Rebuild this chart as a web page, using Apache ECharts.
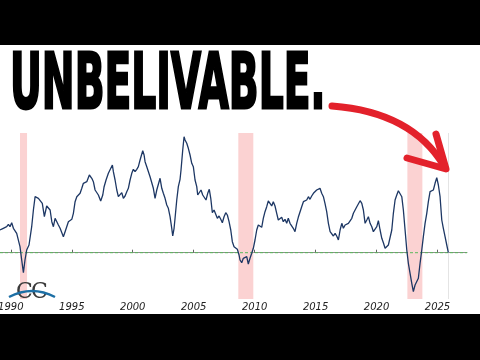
<!DOCTYPE html>
<html>
<head>
<meta charset="utf-8">
<script src="https://cdn.jsdelivr.net/npm/echarts@6/dist/echarts.min.js"></script>
<style>
html,body{margin:0;padding:0;background:#fff;}
#chart{width:480px;height:360px;}
</style>
</head>
<body>
<div id="chart"></div>
<script>
// ---- Data ----
const years = [1989.11,1989.38,1989.52,1989.66,1989.80,1989.93,1990.07,1990.21,1990.34,1990.48,1990.62,1990.75,1990.89,1991.03,1991.16,1991.30,1991.49,1991.71,1991.85,1991.99,1992.12,1992.26,1992.40,1992.58,1992.75,1992.94,1993.08,1993.22,1993.36,1993.49,1993.63,1993.77,1993.90,1994.04,1994.18,1994.31,1994.45,1994.59,1994.72,1994.86,1995.00,1995.13,1995.27,1995.41,1995.68,
1995.82,1995.95,1996.09,1996.23,1996.44,1996.64,1996.77,1996.91,1997.05,1997.18,1997.37,1997.54,1997.65,1997.81,1998.00,1998.14,1998.33,1998.41,1998.55,1998.69,1998.82,1998.96,1999.10,1999.23,1999.37,1999.51,1999.64,1999.78,1999.92,2000.05,2000.19,2000.33,2000.46,2000.60,2000.82,2000.93,2001.01,2001.15,2001.28,2001.42,2001.56,2001.69,2001.83,2001.97,2002.10,2002.24,
2002.38,2002.51,2002.65,2002.79,2002.92,2003.06,2003.20,2003.28,2003.39,2003.47,2003.61,2003.74,2003.88,2003.96,2004.10,2004.21,2004.29,2004.43,2004.56,2004.70,2004.84,2004.97,2005.11,2005.25,2005.33,2005.46,2005.60,2005.74,2005.87,2006.01,2006.15,2006.28,2006.40,2006.53,2006.67,2006.81,2006.94,2007.08,2007.22,2007.35,2007.49,2007.63,2007.76,2007.90,2008.04,2008.17,2008.31,2008.45,2008.58,2008.72,2008.80,
2008.94,2009.07,2009.21,2009.35,2009.48,2009.62,2009.76,2009.89,2010.03,2010.17,2010.30,2010.44,2010.58,2010.71,2010.85,2010.99,2011.12,2011.26,2011.40,2011.53,2011.67,2011.81,2011.94,2012.08,2012.22,2012.35,2012.49,2012.63,2012.76,2012.90,2013.04,2013.17,2013.31,2013.45,2013.58,2013.72,2013.86,2014.00,2014.13,2014.27,2014.41,2014.54,2014.68,2014.82,2014.95,2015.09,2015.36,
2015.50,2015.64,2015.77,2015.91,2016.05,2016.19,2016.32,2016.46,2016.60,2016.73,2016.87,2017.01,2017.15,2017.28,2017.42,2017.56,2017.69,2017.83,2017.97,2018.10,2018.24,2018.38,2018.51,2018.65,2018.79,2018.92,2019.06,2019.20,2019.33,2019.47,2019.61,2019.74,2019.88,2020.02,2020.15,2020.29,2020.43,2020.56,2020.70,2020.84,2020.97,2021.11,2021.25,2021.38,2021.52,2021.66,2021.79,2021.93,
2022.07,2022.20,2022.34,2022.48,2022.61,2022.75,2022.89,2023.02,2023.16,2023.30,2023.43,2023.57,2023.71,2023.84,2023.98,2024.12,2024.25,2024.39,2024.53,2024.66,2024.80,2024.94,2025.07,2025.21,2025.35,2025.48,2025.62,2025.76,2025.89];

const values = [2.27,2.44,2.27,2.60,2.84,2.60,3.00,2.44,2.60,1.94,1.94,0.60,-0.73,-2.00,-0.73,0.27,0.77,2.60,4.27,5.60,5.77,5.44,5.44,4.94,3.60,4.67,4.54,4.27,3.10,2.60,3.44,3.54,2.77,2.44,2.27,1.60,2.10,2.27,3.10,3.27,3.34,3.94,5.10,5.60,5.94,
6.44,6.94,7.10,7.10,7.77,7.44,7.10,6.27,6.10,5.77,5.17,5.77,6.60,7.27,7.94,7.77,8.77,8.10,7.27,6.27,5.60,5.77,6.00,5.44,5.67,6.10,6.44,7.27,7.94,8.34,8.10,8.34,8.60,9.27,10.20,9.77,9.10,8.60,8.44,7.60,7.44,6.44,5.44,6.27,6.44,7.44,
6.44,5.94,5.44,4.77,4.44,3.60,2.44,1.67,2.44,3.44,5.27,6.60,7.34,8.27,10.27,11.60,11.27,10.94,10.44,9.77,8.94,8.60,7.27,6.60,5.77,5.77,6.27,5.77,5.60,5.27,5.94,6.34,5.44,4.00,4.27,4.27,3.44,3.67,3.34,3.00,3.60,4.00,3.77,3.10,2.27,1.10,0.60,0.77,0.34,-0.23,-0.73,
-1.00,-0.56,-0.73,-0.40,-1.13,-0.56,-0.06,0.44,1.27,2.27,2.77,2.77,2.54,3.44,4.10,4.60,5.17,4.94,4.67,5.10,4.67,3.94,3.27,3.10,3.54,3.10,3.34,2.94,3.44,2.94,2.77,2.44,2.10,2.94,3.54,3.67,4.60,5.10,5.10,5.27,5.60,5.34,5.67,5.94,5.94,6.27,6.44,
5.94,5.60,4.94,4.10,2.94,2.10,1.94,1.67,1.94,1.67,1.27,2.27,2.94,2.44,2.77,2.60,2.94,3.10,3.44,3.94,4.27,4.60,4.77,5.20,4.94,4.27,2.94,3.27,3.60,2.94,2.60,2.10,1.94,2.60,3.20,2.27,1.44,1.00,0.44,0.44,0.77,0.77,2.27,3.94,5.27,5.77,6.20,6.27,
5.60,4.27,2.27,0.27,-1.06,-2.06,-3.06,-3.90,-3.23,-3.33,-2.56,-1.06,0.27,1.60,2.94,3.94,5.10,6.10,6.20,6.27,6.94,7.50,6.77,5.60,3.27,2.44,1.60,0.77,0.00];

const recessionStart = [1990.75, 2008.66, 2022.53];
const recessionEnd   = [1991.33, 2009.89, 2023.76];
const tickYears = [1990, 1995, 2000, 2005, 2010, 2015, 2020, 2025];
const xMin = 1989.11;
const xMax = 2027.42;
const baselineValue = 0;
const lastDate = 2025.89;
const headline = 'UNBELIVABLE.';

// ---- Chart ----
const chart = echarts.init(document.getElementById('chart'), null, {renderer: 'canvas'});
const seriesData = years.map((y, i) => [y, values[i]]);
const areas = recessionStart.map((s, i) => [{xAxis: s}, {xAxis: recessionEnd[i]}]);

chart.setOption({
  animation: false,
  backgroundColor: '#ffffff',
  grid: {left: 0, right: 13, top: 133, bottom: 61, containLabel: false, outerBoundsMode: 'none'},
  xAxis: {
    type: 'value',
    min: xMin,
    max: xMax,
    axisLine: {show: true, lineStyle: {color: '#8c8c8c', width: 1}},
    axisTick: {show: true, inside: true, length: 3, customValues: tickYears, lineStyle: {color: '#666'}},
    axisLabel: {
      customValues: tickYears,
      formatter: v => String(v),
      fontFamily: 'DejaVu Sans',
      fontStyle: 'italic',
      fontSize: 10,
      color: '#222',
      margin: 3
    },
    splitLine: {show: false}
  },
  yAxis: {
    type: 'value', min: -4.63, max: 11.97, show: false,
    splitLine: {show: false}
  },
  series: [{
    type: 'line',
    data: [[xMin, baselineValue], [xMax, baselineValue]],
    showSymbol: false,
    silent: true,
    z: 3,
    lineStyle: {color: '#5cb85c', type: [3, 2], width: 1}
  }, {
    type: 'line',
    data: seriesData,
    showSymbol: false,
    lineStyle: {color: '#1d3764', width: 1.3},
    z: 5,
    markArea: {
      silent: true,
      itemStyle: {color: '#fbd2d2'},
      data: areas
    },
    markLine: {
      silent: true,
      symbol: ['none', 'none'],
      label: {show: false},
      lineStyle: {color: '#e4e4e4', type: 'solid', width: 1},
      data: [{xAxis: lastDate}]
    }
  }],
  graphic: [
    {type: 'rect', shape: {x: 0, y: 0, width: 480, height: 45}, style: {fill: '#000'}, z: 100},
    {type: 'rect', shape: {x: 0, y: 314, width: 480, height: 46}, style: {fill: '#000'}, z: 100},
    {
      type: 'text', x: 10, y: 88, scaleX: 0.49, scaleY: 0.95, z: 50,
      style: {
        text: headline, x: 0, y: 0,
        fontFamily: 'DejaVu Sans', fontWeight: 'bold', fontSize: 80,
        fill: '#000', stroke: '#000', lineWidth: 3,
        verticalAlign: 'middle', align: 'left'
      }
    },
    // red arrow
    {
      type: 'bezierCurve', z: 60,
      shape: {x1: 332, y1: 106, x2: 444, y2: 166, cpx1: 412, cpy1: 112},
      style: {stroke: '#e3212b', lineWidth: 7, lineCap: 'round', fill: null}
    },
    {
      type: 'polyline', z: 60,
      shape: {points: [[436, 134], [446, 169], [407, 158]]},
      style: {stroke: '#e3212b', lineWidth: 7, lineCap: 'round', lineJoin: 'round', fill: null}
    },
    // logo
    {
      type: 'text', x: 16, y: 292, z: 40,
      style: {text: 'C', fontFamily: 'DejaVu Serif', fontSize: 22, fill: '#3a3a3a', verticalAlign: 'middle'}
    },
    {
      type: 'text', x: 31, y: 292, z: 40,
      style: {text: 'C', fontFamily: 'DejaVu Serif', fontSize: 22, fill: '#3a3a3a', verticalAlign: 'middle'}
    },
    {
      type: 'bezierCurve', z: 41,
      shape: {x1: 9, y1: 297, x2: 55, y2: 297, cpx1: 32, cpy1: 285},
      style: {stroke: '#1d6fa5', lineWidth: 2.5, fill: null}
    }
  ]
});
</script>
</body>
</html>
